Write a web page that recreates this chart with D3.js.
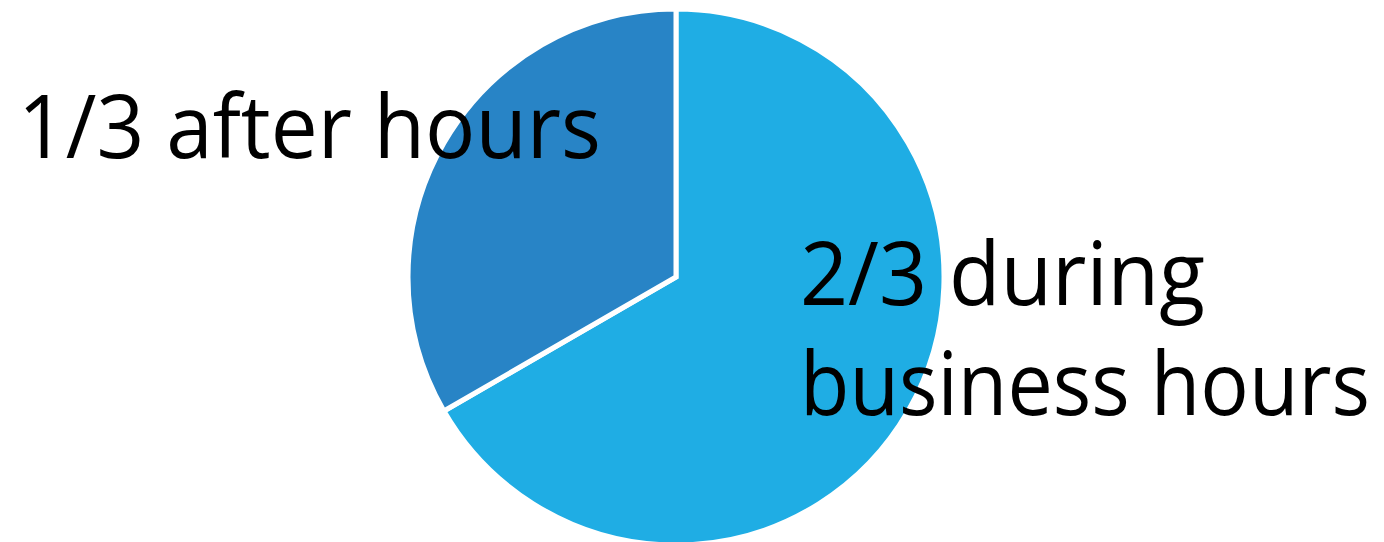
<!DOCTYPE html>
<html>
<head>
<meta charset="utf-8">
<script src="https://cdn.jsdelivr.net/npm/d3@7"></script>
<style>
  html, body { margin: 0; padding: 0; background: #fff; }
  svg { display: block; }
</style>
</head>
<body>
<svg id="chart" width="1384" height="542"></svg>
<script>
const categories = ["2/3 during business hours", "1/3 after hours"];
const values = [2, 1];
const labelLines = [["2/3 during", "business hours"], ["1/3 after hours"]];
const colors = ["#1FADE4", "#2884C6"];

const svg = d3.select("#chart");
const cx = 676, cy = 277, r = 268;

const pie = d3.pie().sort(null).value(d => d.value);
const arcs = pie(categories.map((c, i) => ({ cat: c, value: values[i] })));
const arc = d3.arc().innerRadius(0).outerRadius(r);

const g = svg.append("g").attr("transform", `translate(${cx},${cy})`);
g.selectAll("path")
  .data(arcs)
  .join("path")
  .attr("d", arc)
  .attr("fill", (d, i) => colors[i])
  .attr("stroke", "#fff")
  .attr("stroke-width", 5)
  .attr("stroke-linejoin", "miter");

// labels (Calibri-like narrow rendering via horizontal scaling)
const font = "'Open Sans', 'Noto Sans', sans-serif";
const labelLayout = [
  [{ x: 800, y: 305, w: 405 }, { x: 800, y: 415, w: 570 }],
  [{ x: 18, y: 158, w: 583 }]
];
labelLines.forEach((lines, i) => {
  lines.forEach((t, j) => {
    const L = labelLayout[i][j];
    const txt = svg.append("text")
      .attr("x", 0)
      .attr("y", 0)
      .attr("font-family", font)
      .attr("font-size", 88)
      .attr("fill", "#000")
      .text(t);
    const natural = txt.node().getComputedTextLength() || L.w;
    txt.attr("transform", `translate(${L.x},${L.y}) scale(${L.w / natural},1)`);
  });
});
</script>
</body>
</html>
